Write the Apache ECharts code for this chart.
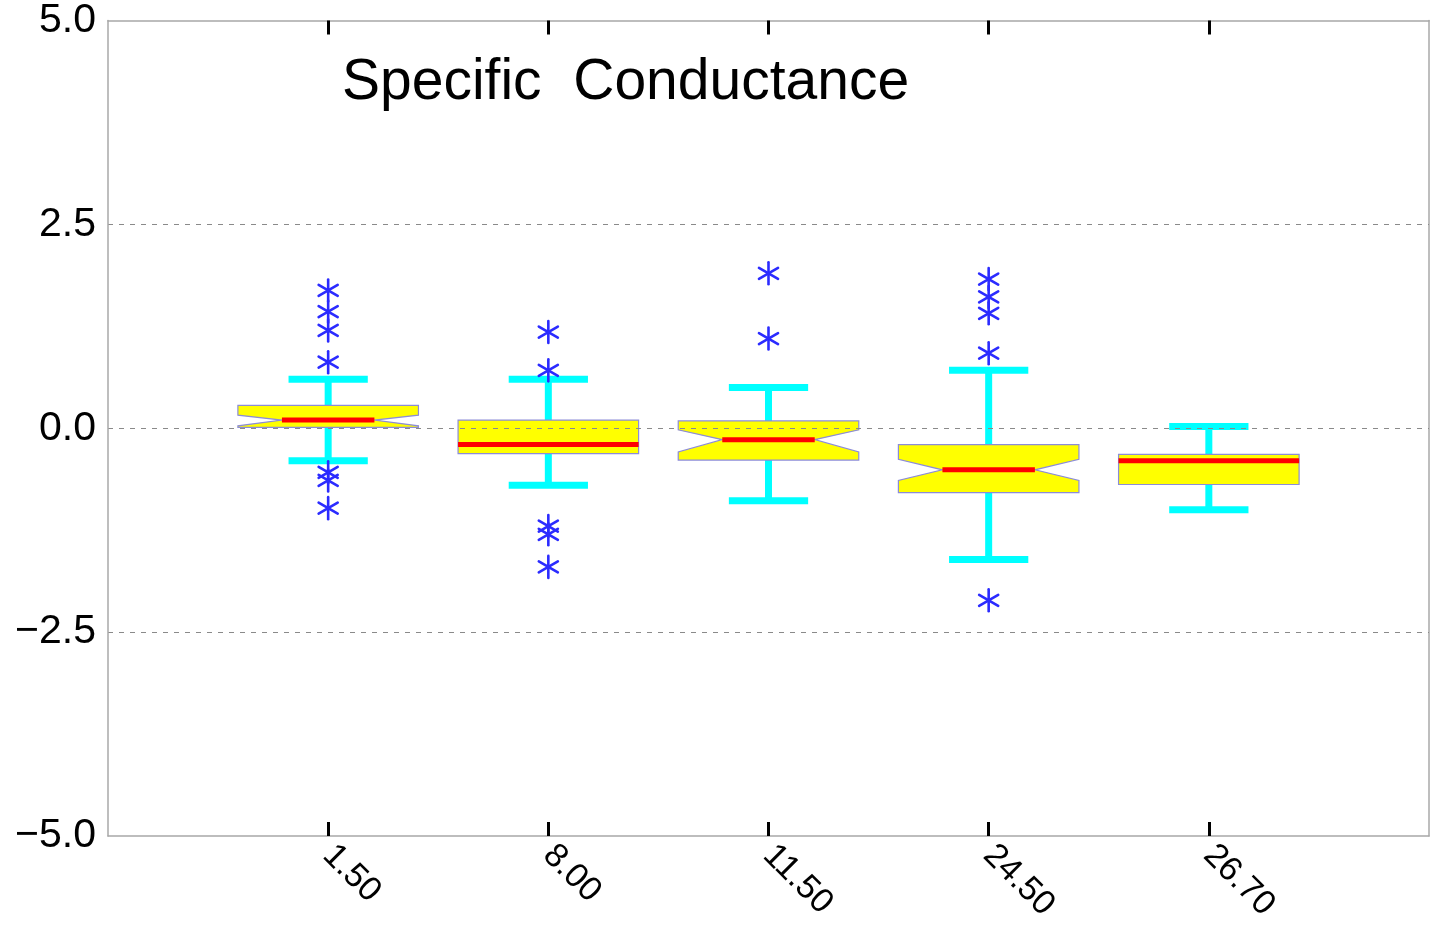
<!DOCTYPE html>
<html><head><meta charset="utf-8">
<script src="https://cdn.jsdelivr.net/npm/echarts@6/dist/echarts.min.js"></script>
<style>html,body{margin:0;padding:0;background:#fff}#c{width:1431px;height:927px}</style>
</head><body><div id="c"></div>
<script>
// ---- data ----
const categories = ['1.50', '8.00', '11.50', '24.50', '26.70'];
const lowWhisker  = [-0.40, -0.70, -0.89, -1.61, -1.00];
const q1          = [ 0.01, -0.31, -0.39, -0.79, -0.69];
const median      = [ 0.10, -0.20, -0.14, -0.51, -0.40];
const q3          = [ 0.28,  0.10,  0.09, -0.20, -0.32];
const highWhisker = [ 0.60,  0.60,  0.50,  0.71,  0.02];
const notchLow    = [ 0.03,  null, -0.29, -0.64,  null];
const notchHigh   = [ 0.16,  null, -0.02, -0.38,  null];
const outlierCat  = [0, 0, 0, 0, 0, 0, 0, 1, 1, 1, 1, 1, 2, 2, 3, 3, 3, 3, 3];
const outlierVal  = [1.69, 1.43, 1.20, 0.81, -0.54, -0.64, -0.98,
                     1.18, 0.71, -1.20, -1.30, -1.70,
                     1.90, 1.10,
                     1.83, 1.61, 1.41, 0.92, -2.11];
const yTicks = [-5, -2.5, 0, 2.5, 5];
const title = 'Specific  Conductance';

const FONT = 'Liberation Sans, Arial, Helvetica, sans-serif';
const boxData = categories.map((c, i) => [i + 1, lowWhisker[i], q1[i], median[i], q3[i], highWhisker[i]]);
const outData = outlierCat.map((c, i) => [c + 1, outlierVal[i]]);
const catPos = categories.map((c, i) => i + 1);

function renderBox(params, api) {
  const i = params.dataIndex;
  const x = api.value(0);
  const unit = api.size([1, 0])[0];
  const hw = 0.41 * unit, nw = 0.21 * unit, cw = 0.18 * unit;
  const pLow = api.coord([x, api.value(1)]);
  const pQ1 = api.coord([x, api.value(2)]);
  const pMed = api.coord([x, api.value(3)]);
  const pQ3 = api.coord([x, api.value(4)]);
  const pHigh = api.coord([x, api.value(5)]);
  const cx = pMed[0];
  const cyan = '#00ffff';
  const children = [];
  children.push({type: 'line', shape: {x1: cx, y1: pHigh[1], x2: cx, y2: pLow[1]}, style: {stroke: cyan, lineWidth: 7}});
  children.push({type: 'line', shape: {x1: cx - cw, y1: pHigh[1], x2: cx + cw, y2: pHigh[1]}, style: {stroke: cyan, lineWidth: 7}});
  children.push({type: 'line', shape: {x1: cx - cw, y1: pLow[1], x2: cx + cw, y2: pLow[1]}, style: {stroke: cyan, lineWidth: 7}});
  let pts, mw;
  if (notchLow[i] !== null) {
    const nHi = api.coord([x, notchHigh[i]])[1];
    const nLo = api.coord([x, notchLow[i]])[1];
    pts = [[cx - hw, pQ3[1]], [cx + hw, pQ3[1]], [cx + hw, nHi], [cx + nw, pMed[1]], [cx + hw, nLo],
           [cx + hw, pQ1[1]], [cx - hw, pQ1[1]], [cx - hw, nLo], [cx - nw, pMed[1]], [cx - hw, nHi]];
    mw = nw;
  } else {
    pts = [[cx - hw, pQ3[1]], [cx + hw, pQ3[1]], [cx + hw, pQ1[1]], [cx - hw, pQ1[1]]];
    mw = hw;
  }
  children.push({type: 'polygon', shape: {points: pts}, style: {fill: '#ffff00', stroke: '#8c8cd8', lineWidth: 1.2}});
  children.push({type: 'line', shape: {x1: cx - mw, y1: pMed[1], x2: cx + mw, y2: pMed[1]}, style: {stroke: '#ff0000', lineWidth: 5}});
  return {type: 'group', children};
}

function renderStar(params, api) {
  const p = api.coord([api.value(0), api.value(1)]);
  const r = 11;
  const children = [];
  [90, 30, -30].forEach(a => {
    const rad = a * Math.PI / 180;
    const dx = r * Math.cos(rad), dy = r * Math.sin(rad);
    children.push({type: 'line', shape: {x1: p[0] - dx, y1: p[1] - dy, x2: p[0] + dx, y2: p[1] + dy},
      style: {stroke: '#2b2bff', lineWidth: 2.6, lineCap: 'round'}});
  });
  return {type: 'group', children};
}

const xCommon = {
  type: 'value', min: 0, max: 6,
  axisLine: {show: true, onZero: false, lineStyle: {color: '#a8a8a8', width: 1.5}},
  axisTick: {show: true, inside: true, length: 14, customValues: catPos, lineStyle: {color: '#000', width: 3}},
  splitLine: {show: false}
};

const chart = echarts.init(document.getElementById('c'), null, {renderer: 'canvas'});
chart.setOption({
  animation: false,
  backgroundColor: '#fff',
  grid: {left: 108, right: 2, top: 20, bottom: 91, containLabel: false},
  xAxis: [
    Object.assign({}, xCommon, {position: 'bottom',
      axisLabel: {show: true, customValues: catPos, formatter: v => categories[Math.round(v) - 1] || '',
        rotate: -45, fontSize: 34, color: '#000', fontFamily: FONT, margin: 14}}),
    Object.assign({}, xCommon, {position: 'top', axisLabel: {show: false}})
  ],
  yAxis: [
    {type: 'value', min: -5, max: 5, interval: 2.5, z: 10, position: 'left',
      axisLine: {show: true, onZero: false, lineStyle: {color: '#a8a8a8', width: 1.5}},
      axisTick: {show: false},
      axisLabel: {fontSize: 41, color: '#000', fontFamily: FONT, margin: 12,
        customValues: yTicks,
        formatter: v => v.toFixed(1).replace('-', '\u2212')},
      splitLine: {show: true, showMinLine: false, showMaxLine: false,
        lineStyle: {type: [5, 6], color: '#8a8a8a', width: 1}}},
    {type: 'value', min: -5, max: 5, interval: 2.5, position: 'right',
      axisLine: {show: true, onZero: false, lineStyle: {color: '#a8a8a8', width: 1.5}},
      axisTick: {show: false}, axisLabel: {show: false}, splitLine: {show: false}}
  ],
  graphic: [{type: 'text', left: 342, top: 55,
    style: {text: title, fontSize: 57, fontFamily: FONT, fill: '#000'}}],
  series: [
    {type: 'custom', renderItem: renderBox, data: boxData, encode: {x: 0, y: [1, 2, 3, 4, 5]}, z: 2},
    {type: 'custom', renderItem: renderStar, data: outData, encode: {x: 0, y: 1}, z: 3}
  ]
});
</script>
</body></html>
